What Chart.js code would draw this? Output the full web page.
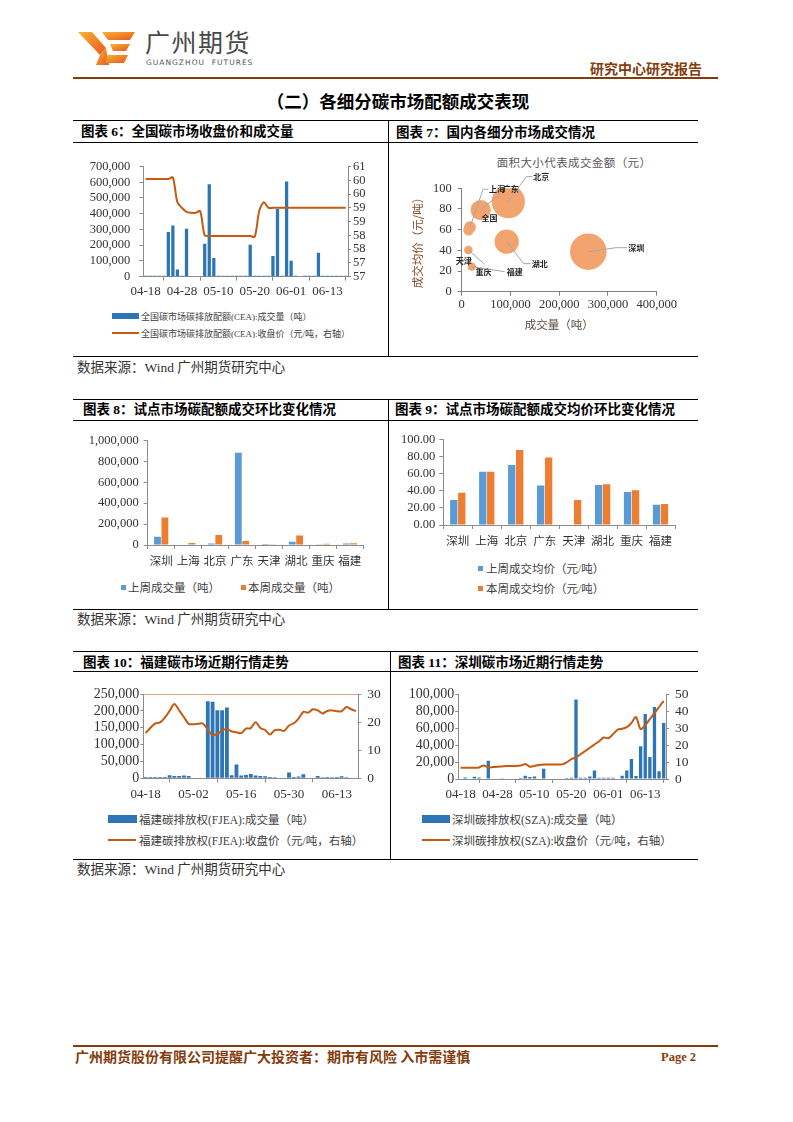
<!DOCTYPE html>
<html lang="zh-CN">
<head>
<meta charset="utf-8">
<title>各细分碳市场配额成交表现</title>
<script src="https://cdn.jsdelivr.net/npm/chart.js@4.4.1/dist/chart.umd.min.js"></script>
<style>
  html, body { margin: 0; padding: 0; background: #fff; }
  body { width: 793px; height: 1122px; position: relative; overflow: hidden;
         font-family: 'Liberation Serif', 'Noto Sans CJK SC', serif; color: #000; }
  .hline { position: absolute; height: 0; border-top: 1.5px solid #000; }
  .vline { position: absolute; width: 0; border-left: 1.5px solid #000; }
  .cap { position: absolute; font-weight: bold; font-size: 13.5px; line-height: 16px; white-space: nowrap; }
  .src { position: absolute; font-size: 13.5px; line-height: 16px; color: #333; white-space: nowrap; }
  .box { position: absolute; }
  .leg { position: absolute; white-space: nowrap; color: #404040; display: flex; align-items: center; }
  .sw { display: inline-block; margin-right: 2px; flex: none; }
</style>
</head>
<body>

<!-- header -->
<svg style="position:absolute;left:78px;top:30px" width="58" height="36" viewBox="0 0 58 36">
  <defs>
    <linearGradient id="lg" x1="0" y1="0" x2="1" y2="1">
      <stop offset="0" stop-color="#F9B233"/>
      <stop offset="1" stop-color="#E8581F"/>
    </linearGradient>
  </defs>
  <polygon points="0,2 14,2 28,18 22,25" fill="url(#lg)"/>
  <polygon points="22,25 28,18 31,35 18,35" fill="url(#lg)"/>
  <polygon points="24,2 57,2 52,10 30,10" fill="url(#lg)"/>
  <polygon points="32,14 52,14 48,21 35,21" fill="url(#lg)"/>
  <polygon points="30,25 50,25 46,33 27,33" fill="url(#lg)"/>
</svg>
<div style="position:absolute;left:145px;top:26px;font-family:'Noto Sans CJK SC',sans-serif;font-size:25px;line-height:30px;letter-spacing:1.5px;color:#4a4a4a">广州期货</div>
<div style="position:absolute;left:146px;top:58px;font-family:'DejaVu Sans',sans-serif;font-size:7.5px;line-height:9px;letter-spacing:1px;color:#555">GUANGZHOU&nbsp; FUTURES</div>
<div style="position:absolute;left:590px;top:60px;font-family:'Noto Sans CJK SC',sans-serif;font-weight:bold;font-size:14px;line-height:16px;color:#843C0C">研究中心研究报告</div>
<div style="position:absolute;left:73px;top:77px;width:645px;height:2px;background:#843C0C"></div>
<div style="position:absolute;left:0;top:90px;width:796px;text-align:center;font-family:'Noto Sans CJK SC',sans-serif;font-weight:bold;font-size:17.5px;line-height:22px">（二）各细分碳市场配额成交表现</div>

<!-- block 1 -->
<div class="hline" style="left:73px;top:120px;width:625px"></div>
<div class="hline" style="left:73px;top:142px;width:625px"></div>
<div class="hline" style="left:73px;top:356px;width:625px"></div>
<div class="vline" style="left:388px;top:120px;height:237px"></div>
<div class="cap" style="left:81px;top:124px">图表 6：全国碳市场收盘价和成交量</div>
<div class="cap" style="left:396px;top:125px">图表 7：国内各细分市场成交情况</div>
<div class="src" style="left:77px;top:360px">数据来源：Wind 广州期货研究中心</div>

<div class="box" style="left:78px;top:150px;width:300px;height:151px"><canvas id="c6"></canvas></div>
<div class="leg" style="left:112px;top:309px;height:14px;font-size:9px"><span class="sw" style="width:27px;height:6px;background:#2E75B6"></span>全国碳市场碳排放配额(CEA):成交量（吨）</div>
<div class="leg" style="left:112px;top:326px;height:14px;font-size:9px"><span class="sw" style="width:27px;height:2px;background:#C55A11"></span>全国碳市场碳排放配额(CEA):收盘价（元/吨，右轴）</div>

<div style="position:absolute;left:474px;top:155px;width:200px;text-align:center;font-family:'Noto Sans CJK SC',sans-serif;font-size:11.5px;line-height:15px;letter-spacing:0.4px;color:#595959">面积大小代表成交金额（元）</div>
<div class="box" style="left:408px;top:150px;width:332px;height:186px"><canvas id="c7"></canvas></div>

<!-- block 2 -->
<div class="hline" style="left:73px;top:399px;width:625px"></div>
<div class="hline" style="left:73px;top:420px;width:625px"></div>
<div class="hline" style="left:73px;top:609px;width:625px"></div>
<div class="vline" style="left:388px;top:399px;height:211px"></div>
<div class="cap" style="left:83px;top:402px">图表 8：试点市场碳配额成交环比变化情况</div>
<div class="cap" style="left:395px;top:402px">图表 9：试点市场碳配额成交均价环比变化情况</div>
<div class="src" style="left:77px;top:612px">数据来源：Wind 广州期货研究中心</div>

<div class="box" style="left:82px;top:428px;width:300px;height:142px"><canvas id="c8"></canvas></div>
<div class="leg" style="left:121px;top:579px;height:16px;font-size:11.5px"><span class="sw" style="width:5px;height:5px;background:#5B9BD5"></span>上周成交量（吨）</div>
<div class="leg" style="left:241px;top:579px;height:16px;font-size:11.5px"><span class="sw" style="width:5px;height:5px;background:#ED7D31"></span>本周成交量（吨）</div>

<div class="box" style="left:395px;top:428px;width:300px;height:122px"><canvas id="c9"></canvas></div>
<div class="leg" style="left:478px;top:560px;height:16px;font-size:11.5px"><span class="sw" style="width:5px;height:5px;background:#5B9BD5;margin-right:3px"></span>上周成交均价（元/吨）</div>
<div class="leg" style="left:478px;top:580px;height:16px;font-size:11.5px"><span class="sw" style="width:5px;height:5px;background:#ED7D31;margin-right:3px"></span>本周成交均价（元/吨）</div>

<!-- block 3 -->
<div class="hline" style="left:73px;top:651px;width:625px"></div>
<div class="hline" style="left:73px;top:671px;width:625px"></div>
<div class="hline" style="left:73px;top:859px;width:625px"></div>
<div class="vline" style="left:390px;top:651px;height:209px"></div>
<div class="cap" style="left:83px;top:655px">图表 10：福建碳市场近期行情走势</div>
<div class="cap" style="left:398px;top:655px">图表 11：深圳碳市场近期行情走势</div>
<div class="src" style="left:77px;top:862px">数据来源：Wind 广州期货研究中心</div>

<div class="box" style="left:78px;top:680px;width:310px;height:124.3px"><canvas id="c10"></canvas></div>
<div class="leg" style="left:108px;top:811px;height:16px;font-size:11.5px"><span class="sw" style="width:29px;height:8px;background:#2E75B6"></span>福建碳排放权(FJEA):成交量（吨）</div>
<div class="leg" style="left:108px;top:832px;height:16px;font-size:11.5px"><span class="sw" style="width:28px;height:2px;background:#C55A11;margin-right:3px"></span>福建碳排放权(FJEA):收盘价（元/吨，右轴）</div>

<div class="box" style="left:392px;top:680px;width:308px;height:125px"><canvas id="c11"></canvas></div>
<div class="leg" style="left:422px;top:811px;height:16px;font-size:11.5px"><span class="sw" style="width:28px;height:8px;background:#2E75B6"></span>深圳碳排放权(SZA):成交量（吨）</div>
<div class="leg" style="left:422px;top:832px;height:16px;font-size:11.5px"><span class="sw" style="width:28px;height:2px;background:#C55A11;margin-right:2px"></span>深圳碳排放权(SZA):收盘价（元/吨，右轴）</div>

<!-- footer -->
<div style="position:absolute;left:73px;top:1045px;width:645px;height:2px;background:#843C0C"></div>
<div style="position:absolute;left:75px;top:1048px;font-family:'Noto Sans CJK SC',sans-serif;font-weight:bold;font-size:14px;line-height:17px;color:#843C0C;white-space:nowrap">广州期货股份有限公司提醒广大投资者：期市有风险 入市需谨慎</div>
<div style="position:absolute;left:661px;top:1049px;font-family:'Liberation Serif',serif;font-weight:bold;font-size:12.5px;line-height:16px;color:#843C0C">Page 2</div>

<script>
// ---- data ----
const tradeDays = [
  '04-18', '04-19', '04-20', '04-21', '04-22',
  '04-25', '04-26', '04-27', '04-28', '04-29',
  '05-02', '05-03', '05-04', '05-05', '05-06',
  '05-09', '05-10', '05-11', '05-12', '05-13',
  '05-16', '05-17', '05-18', '05-19', '05-20',
  '05-23', '05-24', '05-25', '05-26', '05-27',
  '05-30', '05-31', '06-01', '06-02', '06-03',
  '06-06', '06-07', '06-08', '06-09', '06-10',
  '06-13', '06-14', '06-15', '06-16', '06-17'
];

// 全国碳市场 CEA
const ceaVolume = [
  6000, 6000, 6000, 6000, 6000, 284000, 325000, 45000, 6000, 304000,
  0, 0, 0, 210000, 587000, 118000, 6000, 6000, 6000, 6000,
  6000, 6000, 6000, 203000, 6000, 6000, 6000, 6000, 132000, 430000,
  6000, 605000, 102000, 6000, 0, 6000, 6000, 6000, 152000, 6000,
  6000, 6000, 6000, 6000, 6000
];
const ceaClose = [
  60.55, 60.55, 60.55, 60.55, 60.55, 60.55, 60.6, 59.7, 59.5, 59.35,
  59.32, 59.32, 59.38, 58.5, 58.48, 58.48, 58.48, 58.48, 58.48, 58.48,
  58.48, 58.48, 58.48, 58.48, 58.45, 59.4, 59.7, 59.5, 59.5, 59.5,
  59.5, 59.5, 59.5, 59.5, 59.5, 59.5, 59.5, 59.5, 59.5, 59.5,
  59.5, 59.5, 59.5, 59.5, 59.5
];
const ceaRightTicks = ['57', '57', '58', '58', '59', '59', '60', '60', '61'];

// 各细分市场（气泡图）
const bubbleMarkets = ['深圳', '北京', '湖北', '广东', '上海', '全国', '重庆', '天津', '福建'];
const bubbleVolume = [259700, 95600, 92300, 39000, 17000, 14000, 13700, 2000, 20500];
const bubblePrice = [38.7, 87.1, 48.4, 79.0, 62.3, 59.5, 40.3, 30.0, 24.2];

// 试点市场
const pilotMarkets = ['深圳', '上海', '北京', '广东', '天津', '湖北', '重庆', '福建'];
const lastWeekVolume = [78000, 5000, 15000, 883000, 1000, 31000, 2000, 15000];
const thisWeekVolume = [262000, 19000, 95000, 38000, 2000, 92000, 12000, 17000];
const lastWeekPrice = [29.2, 62.3, 70.2, 46.3, null, 46.7, 38.5, 23.7];
const thisWeekPrice = [37.7, 62.3, 87.7, 79.0, 29.2, 47.8, 40.5, 24.5];

// 福建 FJEA
const fjeaVolume = [
  4000, 4000, 4000, 4000, 4000, 9000, 7000, 7000, 8000, 7000,
  0, 0, 0, 229000, 227000, 202000, 202000, 210000, 9000, 41000,
  8000, 10000, 12500, 8000, 7000, 6000, 4000, 3000, 0, 2000,
  17000, 4000, 5000, 12000, 0, 2000, 7000, 3000, 4000, 3000,
  4000, 6000, 3000, 2000, 2000
];
const fjeaClose = [
  16.1, 18.0, 19.6, 19.9, 21.6, 24.0, 26.5, 24.2, 21.8, 19.4,
  19.3, 19.4, 19.5, 17.3, 15.3, 15.8, 17.1, 17.5, 16.7, 16.4,
  16.1, 17.7, 17.9, 20.0, 17.9, 17.2, 15.6, 17.2, 17.3, 16.9,
  18.8, 19.6, 21.3, 23.7, 23.4, 24.6, 24.2, 23.1, 24.0, 24.2,
  23.9, 23.9, 25.4, 24.6, 23.9
];

// 深圳 SZA
const szaVolume = [
  0, 1900, 0, 2700, 1900, 0, 21600, 0, 0, 800,
  0, 0, 0, 1100, 3800, 2300, 3000, 0, 12000, 0,
  0, 0, 0, 1200, 1500, 93500, 1500, 1500, 3000, 10000,
  1500, 1500, 1500, 1500, 0, 3800, 10000, 23500, 3400, 38600,
  76500, 26000, 84800, 9000, 66000
];
const szaClose = [
  6.6, 6.6, 6.6, 6.6, 6.8, 8.0, 6.8, 7.0, 7.2, 7.4,
  7.6, 7.6, 7.6, 7.9, 8.9, 7.2, 7.8, 8.3, 8.5, 8.5,
  8.5, 8.5, 8.6, 9.8, 11.7, 12.7, 14.6, 16.5, 18.4, 20.3,
  22.2, 24.4, 24.0, 26.3, 29.0, 29.6, 30.5, 33.0, 36.4, 29.4,
  31.7, 35.2, 38.8, 42.4, 46.0
];

// ---- styles ----
const fam = "'Liberation Serif', 'Noto Sans CJK SC', serif";
const cjk = "'Noto Sans CJK SC', sans-serif";
const axisGray = '#8c8c8c';
const tickColor = '#333';
const barBlue = '#2E75B6';
const lineOrange = '#C55A11';
const fmt = v => v.toLocaleString('en-US');

// label offsets (px) for the bubble chart, with leader lines
const bubbleLabelPos = [
  { dx: 48, dy: -4, line: [[0, 0], [28, -4], [39, -4]] },
  { dx: 33, dy: -25, line: [[0, 0], [18, -25], [24, -25]] },
  { dx: 33, dy: 22, line: [[0, 0], [17, 22], [24, 22]] },
  { dx: 30, dy: -21, line: [[0, 0], [20, -17]] },
  { dx: 27, dy: -38, line: [[0, 0], [13, -38], [18, -38]] },
  { dx: 21, dy: -12 },
  { dx: 15, dy: 22, line: [[0, 0], [16, 14]] },
  { dx: 1, dy: 0 },
  { dx: 43, dy: 5, line: [[0, 0], [33, 5]] }
];

Chart.defaults.animation = false;
Chart.defaults.events = [];
Chart.defaults.plugins.legend.display = false;
Chart.defaults.plugins.tooltip.enabled = false;
Chart.defaults.font.family = fam;

function comboChart(id, volume, close, o) {
    return new Chart(document.getElementById(id), {
        type: 'bar',
        data: {
            labels: tradeDays,
            datasets: [{
                type: 'line',
                data: close,
                yAxisID: 'yR',
                borderColor: lineOrange,
                borderWidth: 2,
                pointRadius: 0,
                tension: 0.3,
                order: 0
            }, {
                data: volume,
                yAxisID: 'yL',
                backgroundColor: barBlue,
                categoryPercentage: 1,
                barPercentage: o.barPct,
                order: 1
            }]
        },
        options: {
            responsive: true,
            maintainAspectRatio: false,
            layout: { padding: { top: o.padTop, left: 0, right: 0, bottom: 0 } },
            scales: {
                x: {
                    grid: {
                        offset: false,
                        drawOnChartArea: false,
                        tickLength: 4,
                        color: c => (c.index % o.every === o.every / 2 ? axisGray : 'transparent')
                    },
                    border: { color: axisGray },
                    ticks: {
                        autoSkip: false,
                        maxRotation: 0,
                        minRotation: 0,
                        padding: o.xPad,
                        color: tickColor,
                        font: { size: 13 },
                        callback: (v, i) => (i % o.every === 0 ? tradeDays[i] : '')
                    },
                    afterFit: s => { s.height = o.xH; }
                },
                yL: {
                    position: 'left',
                    min: 0,
                    max: o.lMax,
                    border: { color: axisGray },
                    grid: {
                        drawOnChartArea: o.topLine,
                        tickLength: o.lTick,
                        tickColor: axisGray,
                        color: c => (o.topLine && c.tick.value === o.lMax ? '#E9A276' : 'transparent')
                    },
                    ticks: {
                        autoSkip: false, stepSize: o.lStep, padding: o.lPad,
                        color: tickColor, font: { size: o.lFont }, callback: fmt
                    },
                    afterFit: s => { s.width = o.lW; }
                },
                yR: {
                    position: 'right',
                    min: o.rMin,
                    max: o.rMax,
                    border: { color: axisGray },
                    grid: { drawOnChartArea: false, tickLength: 3, color: axisGray },
                    ticks: {
                        autoSkip: false, stepSize: o.rStep, padding: o.rPad,
                        color: tickColor, font: { size: o.rFont }, callback: o.rCb
                    },
                    afterFit: s => { s.width = o.rW; }
                }
            }
        }
    });
}

// 图表 6
comboChart('c6', ceaVolume, ceaClose, {
    every: 8, barPct: 0.72, padTop: 11.7, xH: 24.3, xPad: 3,
    lMax: 700000, lStep: 100000, lW: 65.3, lPad: 9, lTick: 4, lFont: 12.5, topLine: false,
    rMin: 57, rMax: 61, rStep: 0.5, rW: 30, rPad: 2, rFont: 12.5,
    rCb: (v, i) => ceaRightTicks[i]
});

// 图表 10
comboChart('c10', fjeaVolume, fjeaClose, {
    every: 10, barPct: 0.8, padTop: 11.7, xH: 26, xPad: 4,
    lMax: 250000, lStep: 50000, lW: 65.3, lPad: 1, lTick: 3, lFont: 14, topLine: true,
    rMin: 0, rMax: 30, rStep: 10, rW: 29.7, rPad: 6, rFont: 13.5,
    rCb: v => v
});

// 图表 11
comboChart('c11', szaVolume, szaClose, {
    every: 8, barPct: 0.72, padTop: 11, xH: 26, xPad: 4,
    lMax: 100000, lStep: 20000, lW: 66.3, lPad: 1, lTick: 3, lFont: 14, topLine: false,
    rMin: 0, rMax: 50, rStep: 10, rW: 34, rPad: 6, rFont: 13.5,
    rCb: v => v
});

// 图表 7 气泡图
const bubbleLabels = {
    id: 'bubbleLabels',
    afterDatasetsDraw(chart) {
        const ctx = chart.ctx;
        ctx.save();
        ctx.font = "bold 8px " + cjk;
        ctx.textAlign = 'center';
        ctx.textBaseline = 'middle';
        chart.getDatasetMeta(0).data.forEach((pt, i) => {
            const pos = bubbleLabelPos[i];
            if (pos.line) {
                ctx.beginPath();
                pos.line.forEach(([dx, dy], k) => {
                    if (k === 0) ctx.moveTo(pt.x + dx, pt.y + dy);
                    else ctx.lineTo(pt.x + dx, pt.y + dy);
                });
                ctx.strokeStyle = '#a6a6a6';
                ctx.lineWidth = 1;
                ctx.stroke();
            }
            ctx.fillStyle = '#262626';
            ctx.fillText(bubbleMarkets[i], pt.x + pos.dx, pt.y + pos.dy);
        });
        ctx.restore();
    }
};

new Chart(document.getElementById('c7'), {
    type: 'bubble',
    data: {
        datasets: [{
            data: bubbleMarkets.map((m, i) => ({
                x: bubbleVolume[i],
                y: bubblePrice[i],
                r: Math.sqrt(bubbleVolume[i] * bubblePrice[i]) * 0.00577
            })),
            backgroundColor: '#F3A46E',
            borderWidth: 0
        }]
    },
    options: {
        responsive: true,
        maintainAspectRatio: false,
        layout: { padding: { top: 38.3, right: 83.3, left: 0, bottom: 0 } },
        scales: {
            x: {
                type: 'linear',
                min: 0,
                max: 400000,
                border: { color: '#7f7f7f' },
                grid: { drawOnChartArea: false, tickLength: 4, color: '#7f7f7f' },
                ticks: {
                    autoSkip: false, maxRotation: 0, stepSize: 100000, padding: 2,
                    color: tickColor, font: { size: 12.5 }, callback: fmt
                },
                title: {
                    display: true,
                    text: '成交量（吨）',
                    color: '#5a4a42',
                    font: { family: cjk, size: 11.5 },
                    padding: { top: 2, bottom: 4 }
                },
                afterFit: s => { s.height = 44.3; }
            },
            y: {
                min: 0,
                max: 100,
                border: { color: '#7f7f7f' },
                grid: { drawOnChartArea: false, tickLength: 4, color: '#7f7f7f' },
                ticks: { autoSkip: false, stepSize: 20, padding: 6, color: tickColor, font: { size: 12.5 } },
                title: {
                    display: true,
                    text: '成交均价（元/吨）',
                    color: '#8a4a2a',
                    font: { family: cjk, size: 11.5 },
                    padding: { top: 3, bottom: 0 }
                },
                afterFit: s => { s.width = 53.7; }
            }
        }
    },
    plugins: [bubbleLabels]
});

// 图表 8 / 9 分组柱状图
function pairChart(id, last, now, o) {
    return new Chart(document.getElementById(id), {
        type: 'bar',
        data: {
            labels: pilotMarkets,
            datasets: [
                { data: last, backgroundColor: '#5B9BD5', categoryPercentage: 0.55, barPercentage: 0.92 },
                { data: now, backgroundColor: '#ED7D31', categoryPercentage: 0.55, barPercentage: 0.92 }
            ]
        },
        options: {
            responsive: true,
            maintainAspectRatio: false,
            layout: { padding: { top: 11.3, right: o.padRight, left: 0, bottom: 0 } },
            scales: {
                x: {
                    border: { color: axisGray },
                    grid: { drawOnChartArea: false, tickLength: 4, color: axisGray },
                    ticks: {
                        autoSkip: false, maxRotation: 0, minRotation: 0, padding: 5,
                        color: '#333', font: { family: cjk, size: 11.5 }
                    },
                    afterFit: s => { s.height = 25; }
                },
                y: {
                    min: 0,
                    max: o.max,
                    border: { color: axisGray },
                    grid: { drawOnChartArea: false, tickLength: 4, color: axisGray },
                    ticks: {
                        autoSkip: false, stepSize: o.step, padding: o.pad,
                        color: tickColor, font: { size: 12.5 }, callback: o.cb
                    },
                    afterFit: s => { s.width = o.yW; }
                }
            }
        }
    });
}

pairChart('c8', lastWeekVolume, thisWeekVolume, {
    max: 1000000, step: 200000, pad: 5, yW: 65.7, padRight: 18.7, cb: fmt
});
pairChart('c9', lastWeekPrice, thisWeekPrice, {
    max: 100, step: 20, pad: 4, yW: 48.3, padRight: 20, cb: v => v.toFixed(2)
});
</script>
</body>
</html>
